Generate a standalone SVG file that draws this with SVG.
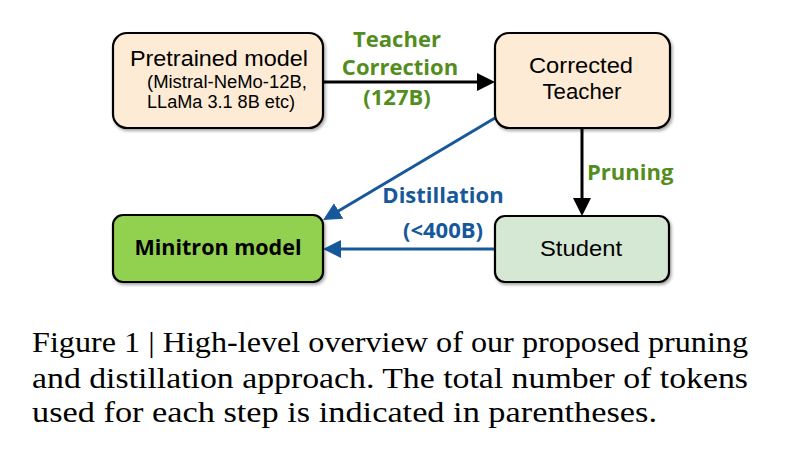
<svg xmlns="http://www.w3.org/2000/svg" width="800" height="466" viewBox="0 0 800 466">
<defs>
<filter id="sh" x="-10%" y="-10%" width="130%" height="140%">
<feDropShadow dx="1.5" dy="2" stdDeviation="1.5" flood-color="#000" flood-opacity="0.35"/>
</filter>
<marker id="ahk" markerUnits="userSpaceOnUse" markerWidth="20" markerHeight="20" refX="10" refY="9" orient="auto">
<path d="M0,0 L18,9 L0,18 z" fill="#000"/>
</marker>
<marker id="ahb" markerUnits="userSpaceOnUse" markerWidth="20" markerHeight="20" refX="10" refY="9" orient="auto">
<path d="M0,0 L18,9 L0,18 z" fill="#17589A"/>
</marker>
<style>
.box{stroke:#000;stroke-width:2.2;filter:url(#sh)}
.peach{fill:#FDEBD5}
.green{fill:#92D050}
.mint{fill:#D5E8D4}
.t{font-family:"Open Sans","Liberation Sans",sans-serif;fill:#000;text-anchor:middle}
.r{font-family:"Liberation Sans","Open Sans",sans-serif;fill:#000;text-anchor:middle}
.big{font-size:22px}
.small{font-size:17.5px}
.lb{font-size:22px;font-weight:bold}
.g{fill:#538D1E}
.bl{fill:#17589A}
.cap{font-family:"Liberation Serif","Times New Roman",serif;font-size:29px;fill:#000}
.ck{stroke:#000;stroke-width:3;fill:none}
.cb{stroke:#17589A;stroke-width:3;fill:none}
</style>
</defs>
<g id="connectors">
<line class="ck" x1="323" y1="82" x2="487" y2="82" marker-end="url(#ahk)"/>
<line class="ck" x1="582" y1="128" x2="582" y2="208" marker-end="url(#ahk)"/>
<line class="cb" x1="495" y1="118" x2="330" y2="216" marker-end="url(#ahb)"/>
<line class="cb" x1="495" y1="249" x2="331" y2="249" marker-end="url(#ahb)"/>
<text class="t lb g" x="397" y="47">Teacher</text>
<text class="t lb g" x="400" y="75">Correction</text>
<text class="t lb g" x="397" y="105">(127B)</text>
<text class="t lb g" x="587" y="180" style="text-anchor:start">Pruning</text>
<text class="t lb bl" x="443" y="203">Distillation</text>
<text class="t lb bl" x="443" y="238">(&lt;400B)</text>
</g>
<g id="pretrained">
<rect class="box peach" x="113" y="33" width="210" height="95" rx="14"/>
<text class="r big" x="219" y="66" textLength="178" lengthAdjust="spacingAndGlyphs">Pretrained model</text>
<text class="r small" x="227" y="88" textLength="160" lengthAdjust="spacingAndGlyphs">(Mistral-NeMo-12B,</text>
<text class="r small" x="221" y="108" textLength="148" lengthAdjust="spacingAndGlyphs">LLaMa 3.1 8B etc)</text>
</g>
<g id="teacher">
<rect class="box peach" x="495" y="33" width="175" height="95" rx="14"/>
<text class="r big" x="581" y="73" textLength="104" lengthAdjust="spacingAndGlyphs">Corrected</text>
<text class="r big" x="582" y="99" textLength="79" lengthAdjust="spacingAndGlyphs">Teacher</text>
</g>
<g id="minitron">
<rect class="box green" x="113" y="215" width="210" height="67" rx="10"/>
<text class="t lb" x="218" y="255" style="font-size:21.5px">Minitron model</text>
</g>
<g id="student">
<rect class="box mint" x="495" y="216" width="174" height="66" rx="10"/>
<text class="r big" x="581" y="256" textLength="82" lengthAdjust="spacingAndGlyphs">Student</text>
</g>
<g id="caption">
<text class="cap" x="32" y="352" textLength="716" lengthAdjust="spacingAndGlyphs">Figure 1 | High-level overview of our proposed pruning</text>
<text class="cap" x="32" y="388" textLength="716" lengthAdjust="spacingAndGlyphs">and distillation approach.  The total number of tokens</text>
<text class="cap" x="32" y="422" textLength="625" lengthAdjust="spacingAndGlyphs">used for each step is indicated in parentheses.</text>
</g>
</svg>
